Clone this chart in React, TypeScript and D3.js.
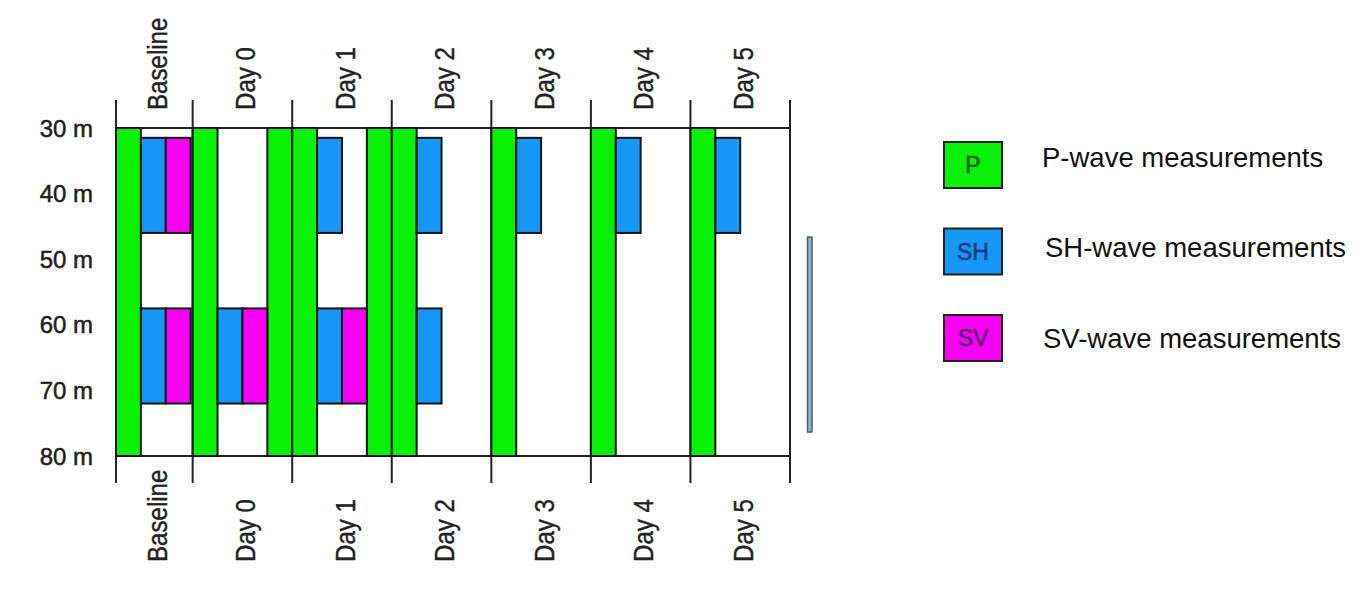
import React from "react";
import * as d3 from "d3";

// ---- data ----
const categories = ["Baseline", "Day 0", "Day 1", "Day 2", "Day 3", "Day 4", "Day 5"];
const categoryStarts = [-0.77, 0, 1, 2, 3, 4, 5]; // days
const timeEnd = 6;
const depthTicks = [30, 40, 50, 60, 70, 80]; // m
const measurementWidth = 0.25; // days

const pWaveTimes = [-0.77, 0, 0.75, 1, 1.75, 2, 3, 4, 5];
const pWaveTop = [30, 30, 30, 30, 30, 30, 30, 30, 30];
const pWaveBottom = [80, 80, 80, 80, 80, 80, 80, 80, 80];

const shWaveTimes = [-0.52, -0.52, 0.25, 1.25, 1.25, 2.25, 2.25, 3.25, 4.25, 5.25];
const shWaveTop = [31.5, 57.5, 57.5, 31.5, 57.5, 31.5, 57.5, 31.5, 31.5, 31.5];
const shWaveBottom = [46, 72, 72, 46, 72, 46, 72, 46, 46, 46];

const svWaveTimes = [-0.27, -0.27, 0.5, 1.5];
const svWaveTop = [31.5, 57.5, 57.5, 57.5];
const svWaveBottom = [46, 72, 72, 72];

const legendKeys = ["P", "SH", "SV"];
const legendLabels = ["P-wave measurements", "SH-wave measurements", "SV-wave measurements"];

// ---- style ----
const W = 1371;
const H = 592;
const colors: Record<string, string> = { P: "#08f208", SH: "#1696f6", SV: "#f800f2" };
const letterColors: Record<string, string> = { P: "#17601a", SH: "#1a3f86", SV: "#63207a" };
const arial = "'Liberation Sans', Arial, sans-serif";

const x = d3.scaleLinear().domain([categoryStarts[0], timeEnd]).range([116, 790]);
const y = d3.scaleLinear().domain([30, 80]).range([128, 456]);

type Bar = { key: string; t: number; top: number; bottom: number };
const bars: Bar[] = [
  ...pWaveTimes.map((t, i) => ({ key: "P", t, top: pWaveTop[i], bottom: pWaveBottom[i] })),
  ...shWaveTimes.map((t, i) => ({ key: "SH", t, top: shWaveTop[i], bottom: shWaveBottom[i] })),
  ...svWaveTimes.map((t, i) => ({ key: "SV", t, top: svWaveTop[i], bottom: svWaveBottom[i] })),
];

const boundaries = [...categoryStarts, timeEnd];

export default function App() {
  const topY = y(30);
  const botY = y(80);
  return (
    <svg
      width={W}
      height={H}
      style={{ position: "absolute", left: 0, top: 0, background: "#fff" }}
    >
      <rect width={W} height={H} fill="#fff" />
      {/* dividers */}
      {boundaries.map((b, i) => (
        <line key={"d" + i} x1={x(b)} x2={x(b)} y1={100} y2={483} stroke="#222" strokeWidth={2} />
      ))}
      {/* top / bottom lines */}
      <line x1={x(categoryStarts[0])} x2={x(timeEnd)} y1={topY} y2={topY} stroke="#222" strokeWidth={2} />
      <line x1={x(categoryStarts[0])} x2={x(timeEnd)} y1={botY} y2={botY} stroke="#222" strokeWidth={2} />
      {/* bars */}
      {bars.map((b, i) => (
        <rect
          key={"b" + i}
          x={x(b.t)}
          y={y(b.top)}
          width={x(b.t + measurementWidth) - x(b.t)}
          height={y(b.bottom) - y(b.top)}
          fill={colors[b.key]}
          stroke="#141414"
          strokeWidth={2}
        />
      ))}
      {/* y tick labels */}
      {depthTicks.map((d) => (
        <text
          key={"y" + d}
          x={93}
          y={y(d)}
          dy="0.36em"
          textAnchor="end"
          fontFamily={arial}
          fontSize={24}
          fill="#1e1e1e"
          stroke="#1e1e1e"
          strokeWidth={0.5}
        >
          {d} m
        </text>
      ))}
      {/* category labels */}
      {categories.map((c, i) => {
        const cx = (x(boundaries[i]) + x(boundaries[i + 1])) / 2 + 3;
        return (
          <g key={"c" + i} fill="#222" stroke="#222" strokeWidth={0.4}>
            <text
              transform={`translate(${cx},110) rotate(-90) scale(0.86,1)`}
              dy="0.35em"
              fontFamily={arial}
              fontSize={28}
            >
              {c}
            </text>
            <text
              transform={`translate(${cx},562) rotate(-90) scale(0.86,1)`}
              dy="0.35em"
              fontFamily={arial}
              fontSize={28}
            >
              {c}
            </text>
          </g>
        );
      })}
      {/* decorative vertical bar */}
      <rect x={807.5} y={237} width={4.5} height={195} fill="#8fb2c9" stroke="#4a5f6e" strokeWidth={1.5} />
      {/* legend */}
      {legendKeys.map((k, i) => {
        const by = 142 + i * 86.5;
        const textY = [167, 257, 348][i];
        const textX = [1042, 1045, 1043][i];
        return (
          <g key={"l" + k}>
            <rect x={944} y={by} width={58} height={46} fill={colors[k]} stroke="#1c261c" strokeWidth={2} />
            <text
              x={973}
              y={by + 23}
              dy="0.36em"
              textAnchor="middle"
              fontFamily={arial}
              fontSize={23}
              fill={letterColors[k]}
              stroke={letterColors[k]}
              strokeWidth={0.6}
            >
              {k}
            </text>
            <text x={textX} y={textY} fontFamily={arial} fontSize={27.5} fill="#111">
              {legendLabels[i]}
            </text>
          </g>
        );
      })}
    </svg>
  );
}
